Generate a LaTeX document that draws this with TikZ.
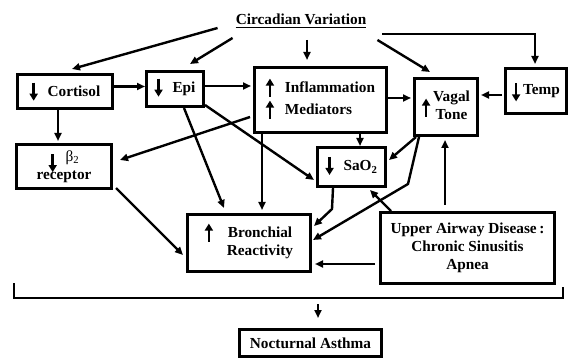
\documentclass[tikz,border=0pt]{standalone}
\usepackage{fontspec}
\setmainfont{Liberation Serif}
\usetikzlibrary{arrows.meta,calc}

% small arrows used inside the boxes
\newcommand{\dn}[1][0pt]{\smash{\raisebox{#1}{\tikz[baseline=0pt]\draw[line width=2.4pt,-{Triangle[length=7pt,width=8pt]}] (0pt,14pt) -- (0pt,-4pt);}}}
\newcommand{\up}[1][0pt]{\smash{\raisebox{#1}{\tikz[baseline=0pt]\draw[line width=2.4pt,-{Triangle[length=7pt,width=8pt]}] (0pt,-4pt) -- (0pt,14pt);}}}

\begin{document}
\begin{tikzpicture}[x=1pt,y=-1pt,
  every node/.style={font=\fontsize{15.3}{18}\selectfont\bfseries},
  box/.style={draw, line width=2.6pt, inner sep=0pt, align=center},
  arr/.style={line width=2.4pt, -{Triangle[length=8pt,width=7pt]}}]
\useasboundingbox (0,0) rectangle (570,358);

\node[inner sep=0pt] (title) at (301,19) {Circadian Variation};
\node[box, minimum width=95.4pt, minimum height=34.4pt] (cort) at (65,91.5) {\dn\hspace{10pt}Cortisol};
\node[box, minimum width=57.4pt, minimum height=35.4pt] (epi) at (175,89) {\dn\hspace{10pt}Epi};
\node[box, minimum width=132.4pt, minimum height=65.4pt] (infl) at (320.5,100)
  {\begin{tabular}{@{}l@{\hspace{11pt}}l@{}}\up & Inflammation\\[4pt] \up & Mediators\end{tabular}};
\node[box, minimum width=63.4pt, minimum height=57.4pt] (vagal) at (446,107)
  {\up[-2pt]\hspace{3pt}\begin{tabular}{@{}c@{}}Vagal\\Tone\end{tabular}};
\node[box, minimum width=61.4pt, minimum height=45.4pt] (temp) at (536,91) {\dn[-3pt]\hspace{3pt}Temp};
\node[box, minimum width=68.4pt, minimum height=39.4pt] (sao) at (351.5,167) {\dn\hspace{10pt}SaO\textsubscript{2}};
\node[box, minimum width=95.4pt, minimum height=44.4pt] (beta) at (64,166.5)
  {\begin{tabular}{@{}c@{}}\dn[-7pt]\hspace{9pt}{\mdseries β\textsubscript{2}}\\receptor\end{tabular}};
\node[box, minimum width=123.4pt, minimum height=57.4pt] (bron) at (249,243)
  {\begin{tabular}{@{}l@{\hspace{14pt}}c@{}}\up & Bronchial\\ & Reactivity\end{tabular}};
\node[box, minimum width=174.4pt, minimum height=71.4pt] (upper) at (467.5,248)
  {Upper Airway Disease\,:\\Chronic Sinusitis\\Apnea};
\node[box, minimum width=142.4pt, minimum height=27.4pt] (noct) at (310.5,343) {Nocturnal Asthma};

\draw[line width=1.2pt] ([yshift=-3pt]title.base west) -- ([yshift=-3pt]title.base east);

% from the circadian variation
\draw[arr] ($(title.west)+(-18,9)$) -- ($(cort.north)+(7,-4)$);
\draw[arr] ($(title.west)+(-3,19)$) -- ($(epi.north)+(15,-6)$);
\draw[arr] ($(title.center)+(6,21)$) -- ($(infl.north)+(-13.5,-6)$);
\draw[arr] ($(title.east)+(11,21)$) -- ($(vagal.north)+(-16,-5)$);
\draw[arr] ($(title.east)+(16,15)$) -| ($(temp.north)+(-1,-3)$);

% between the boxes
\draw[arr] ([yshift=5pt]cort.east) -- ([yshift=5pt]cort.east -| epi.west);
\draw[arr, shorten >=2pt] ([yshift=3pt]epi.east) -- ([yshift=3pt]epi.east -| infl.west);
\draw[arr, shorten >=2pt] ([xshift=-7pt]cort.south) -- ([xshift=-7pt]cort.south |- beta.north);
\draw[arr] ($(infl.west)+(-3,17)$) -- ($(beta.east)+(7,-6.5)$);
\draw[arr] ($(epi.south)+(9,0)$) -- ($(bron.north)+(-25,-5)$);
\draw[arr] ($(epi.south east)+(0,-3)$) -- ($(sao.west)+(-2,13)$);
\draw[arr, shorten >=3pt] ([xshift=9pt]infl.south west) -- ([xshift=9pt]infl.south west |- bron.north);
\draw[arr] ([xshift=39.5pt]infl.south) -- ([xshift=39.5pt]infl.south |- sao.north);
\draw[arr, shorten >=2pt] ([yshift=2pt]infl.east) -- ([yshift=2pt]infl.east -| vagal.west);
\draw[arr, shorten <=2pt, shorten >=2pt] ([yshift=-4pt]temp.west) -- ([yshift=-4pt]temp.west -| vagal.east);
\draw[arr] ($(vagal.south west)+(3,0)$) -- ($(sao.east)+(2,-7)$);
\draw[arr] ($(vagal.south west)+(6,0)$) -- ($(upper.north west)+(29,-27)$) -- ($(bron.east)+(1,-3)$);
\draw[arr] ($(sao.south)+(-18.5,0)$) -- ++(-1,21) -- ($(bron.east)+(2,-17)$);
\draw[arr] ($(upper.north west)+(12,0)$) -- ($(sao.south east)+(-17,2)$);
\draw[arr, shorten <=4pt, shorten >=3pt] ([yshift=-16pt]upper.west) -- ([yshift=-16pt]upper.west -| bron.east);
\draw[arr, shorten <=6pt, shorten >=3pt] ([xshift=-22.5pt]upper.north) -- ([xshift=-22.5pt]upper.north |- vagal.south);
\draw[arr] ($(beta.south east)+(3,-2)$) -- ($(bron.west)+(-3,12)$);

% bracket down to nocturnal asthma
\draw[line width=2pt] (14,283) |- (563,298) -- (563,287);
\coordinate (brk) at (318,304);
\draw[arr, shorten >=10pt] (brk) -- ([xshift=7.5pt]noct.north);
\end{tikzpicture}
\end{document}
